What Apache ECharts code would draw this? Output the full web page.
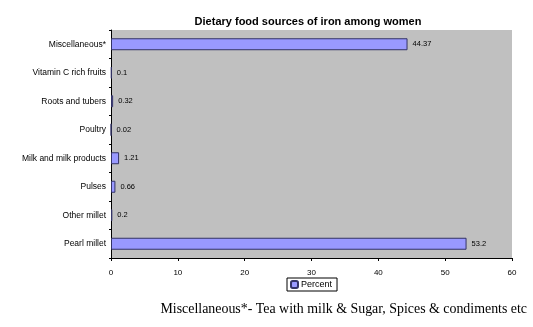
<!DOCTYPE html>
<html><head><meta charset="utf-8">
<script src="https://cdn.jsdelivr.net/npm/echarts@6/dist/echarts.min.js"></script>
<style>html,body{margin:0;padding:0;background:#fff}#c{width:533px;height:327px}</style>
</head><body><div id="c"></div>
<script>
const categories = ["Pearl millet","Other millet","Pulses","Milk and milk products","Poultry","Roots and tubers","Vitamin C rich fruits","Miscellaneous*"];
const percent = [53.2, 0.2, 0.66, 1.21, 0.02, 0.32, 0.1, 44.37];
const xTicks = [0,10,20,30,40,50,60];
const chart = echarts.init(document.getElementById('c'), null, {renderer:'canvas'});
chart.setOption({
  animation:false,
  backgroundColor:'#fff',
  title:{text:'Dietary food sources of iron among women',left:303,top:11,textAlign:'center',
    textStyle:{fontFamily:'Liberation Sans',fontSize:11,fontWeight:'bold',color:'#000'}},
  legend:{data:['Percent'],left:287,top:278,itemWidth:7,itemHeight:7,itemGap:2,padding:[2,5,2,3],
    borderColor:'#000',borderWidth:1,textStyle:{fontFamily:'Liberation Sans',fontSize:9,color:'#000',padding:[0,0,0,-2]}},
  grid:{left:111,right:21,top:30,bottom:69,show:true,backgroundColor:'#c0c0c0',borderWidth:0},
  xAxis:{type:'value',min:0,max:60,interval:10,
    axisLine:{show:true,lineStyle:{color:'#000',width:1}},
    axisTick:{show:true,length:3,inside:false,lineStyle:{color:'#000'}},
    splitLine:{show:false},
    axisLabel:{fontFamily:'Liberation Sans',fontSize:8,color:'#000',margin:11,
      formatter:v=>xTicks.includes(v)?String(v):''}},
  yAxis:{type:'category',data:categories,
    axisLine:{show:true,lineStyle:{color:'#000'}},
    axisTick:{show:true,length:2,lineStyle:{color:'#000'}},
    axisLabel:{fontFamily:'Liberation Sans',fontSize:8.5,color:'#000',margin:5}},
  series:[{name:'Percent',type:'bar',data:percent,barWidth:'42%',
    itemStyle:{color:'#9999ff',borderColor:'#333366',borderWidth:1},
    label:{show:true,position:'right',distance:5,fontFamily:'Liberation Sans',fontSize:7.5,color:'#000',
      formatter:p=>String(p.value)}}],
  graphic:[{type:'text',right:6,top:302,style:{text:'Miscellaneous*- Tea with milk & Sugar, Spices & condiments etc',
    font:'13.9px "Liberation Serif"',fill:'#000'}}]
});
</script></body></html>
